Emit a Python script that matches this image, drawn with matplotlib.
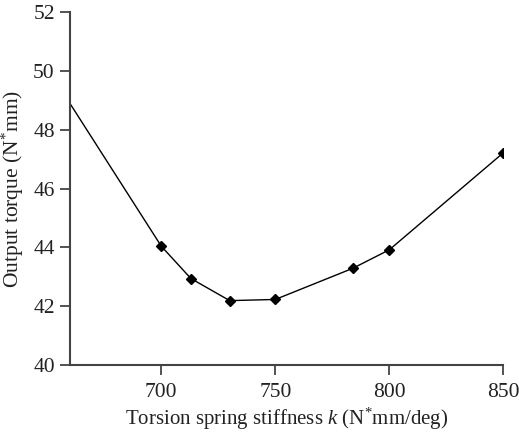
import matplotlib
matplotlib.use("Agg")
import matplotlib.pyplot as plt

stiffness = [650, 700, 713, 730, 750, 784, 800, 850]
torque = [50.1, 44.04, 42.94, 42.19, 42.23, 43.29, 43.92, 47.22]
xticks = [700, 750, 800, 850]
yticks = [40, 42, 44, 46, 48, 50, 52]

plt.rcParams['font.family'] = ['Liberation Serif', 'DejaVu Serif']
plt.rcParams['mathtext.fontset'] = 'custom'
plt.rcParams['mathtext.rm'] = 'Liberation Serif'
plt.rcParams['mathtext.it'] = 'Liberation Serif:italic'

fig = plt.figure(figsize=(5.19, 4.32), dpi=100)
ax = fig.add_axes([0.135, 0.155, 0.835, 0.817])
axc = '#444444'
ax.plot(stiffness, torque, color='black', lw=1.0, marker='D', markersize=5,
        markerfacecolor='black', markeredgecolor='black')
ax.set_xlim(660, 850)
ax.set_ylim(40, 52)
ax.set_xticks(xticks)
ax.set_yticks(yticks)
for s in ['top', 'right']:
    ax.spines[s].set_visible(False)
for s in ['left', 'bottom']:
    ax.spines[s].set_color(axc)
    ax.spines[s].set_linewidth(1.5)
ax.tick_params(axis='both', direction='out', length=7, width=1.3, color=axc,
               labelsize=15.5, labelcolor='#222222', pad=4)
ax.tick_params(axis='x', pad=6)
ax.set_xlabel(r'Torsion spring stiffness $k$ (N$^{*}$mm/deg)', fontsize=15, color='#222222', labelpad=3)
ax.set_ylabel(r'Output torque (N$^{*}$mm)', fontsize=15.5, color='#222222', labelpad=5)
fig.savefig('out.png', dpi=100)
